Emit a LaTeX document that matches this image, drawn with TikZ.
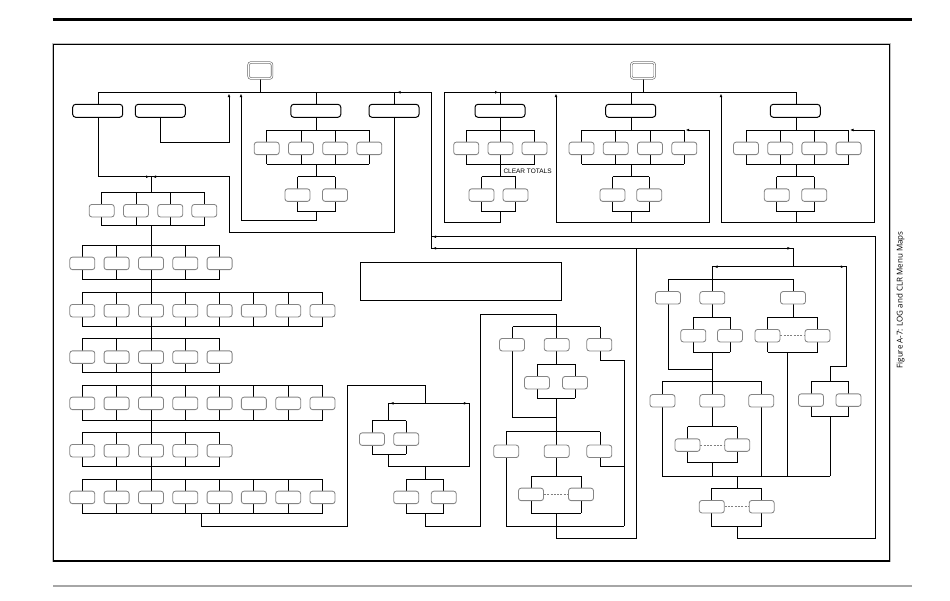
\documentclass[tikz,border=0pt]{standalone}
\usepackage{fontspec}
\setmainfont{Liberation Sans}
\newfontfamily\capfont{Open Sans}
\usetikzlibrary{arrows.meta}
\tikzset{
 ln/.style={line width=1pt, draw=black, line join=miter},
 arr/.style={-{Latex[length=3.6pt,width=2.8pt]}},
 smallbox/.style={draw=black!48, line width=0.85pt, fill=white, rounded corners=2.6pt, minimum width=25pt, minimum height=12.5pt, inner sep=0pt},
 topbox/.style={draw=black, line width=1pt, fill=white, rounded corners=3pt, minimum width=50pt, minimum height=13pt, inner sep=0pt},
 rootbox/.style={draw=black!60, double=white, double distance=1.1pt, line width=0.6pt, fill=white, rounded corners=2.5pt, minimum width=23.5pt, minimum height=16pt, inner sep=0pt},
 dsh/.style={draw=black!50, line width=0.7pt, dash pattern=on 2pt off 1.3pt},
}
% #1 name, #2 top bus y, #3 bottom bus y, #4 first x, #5 last x, #6 list of x
\newcommand\grp[6]{%
 \draw[ln] (#4,#2)--(#5,#2) (#4,#3)--(#5,#3);
 \foreach \xx [count=\ii] in {#6} {
   \draw[ln] (\xx,#2)--(\xx,#3);
   \node[smallbox] (#1-\ii) at (\xx,{#2+18.4}) {};
 }}
% dashed two-box group
\newcommand\dgrp[5]{%
 \draw[ln] (#4,#2)--(#5,#2) (#4,#3)--(#5,#3) (#4,#2)--(#4,#3) (#5,#2)--(#5,#3);
 \node[smallbox] (#1-1) at (#4,{#2+18.4}) {};
 \node[smallbox] (#1-2) at (#5,{#2+18.4}) {};
 \draw[dsh] (#1-1.east)--(#1-2.west);
}
\begin{document}
\begin{tikzpicture}[x=1pt,y=-1pt]
\useasboundingbox (0,0) rectangle (950,600);
% page furniture
\draw[line width=3.3pt] (52.7,19.5)--(912,19.5);
\draw[line width=2pt, black!35] (53,585.7)--(912,585.7);
\draw[line width=2pt, black!25] (53.3,44.3) rectangle (889.5,561);
\draw[line width=1.1pt] (53.3,44.3) rectangle (889.5,561);
\node[rotate=90, font=\capfont\fontsize{8}{9.5}\selectfont, inner sep=0pt] (cap) at (900.5,300) {Figure A-7: LOG and CLR Menu Maps};

% ================= LOG menu =================
\draw[ln] (260.3,79.3)--(260.3,92.3);
\draw[ln] (98.3,92.3)--(431,92.3)--(431,248.3);
\draw[ln] (98.3,92.3)--(98.3,176.7)--(229,176.7)--(229,232.7)--(394.5,232.7)--(394.5,92.3);
\draw[ln,arr] (160.3,117.3)--(160.3,142.3)--(229,142.3)--(229,93.5);
\draw[line width=0.8pt,arr] (404,92.3)--(397,92.3);
\draw[line width=0.8pt,arr] (142,176.7)--(149.6,176.7);
\draw[line width=0.8pt,arr] (160,176.7)--(152.4,176.7);
% C branch
\draw[ln] (316,92.3)--(316,130);
\grp{lc1}{130}{164.3}{266.7}{369.3}{266.7,301,335.2,369.3}
\draw[ln] (316,164.3)--(316,176.7);
\grp{lc2}{176.7}{211.7}{297.5}{335}{297.5,335}
\draw[ln,arr] (316,211.7)--(316,220)--(241,220)--(241,93.5);

% left column spine
\draw[ln] (151,176.7)--(151,192.3);
\grp{g1}{192.3}{225.7}{101.7}{204.3}{101.7,136,170.3,204.3}
\draw[ln] (151,225.7)--(151,245);
\grp{g2}{245}{279.3}{82.3}{219.6}{82.3,116.6,151,185.3,219.6}
\draw[ln] (151,279.3)--(151,292.3);
\grp{g3}{292.3}{326}{82.3}{322.5}{82.3,116.6,151,185.3,219.6,253.9,288.2,322.5}
\draw[ln] (151,326)--(151,338.7);
\grp{g4}{338.7}{372.7}{82.3}{219.6}{82.3,116.6,151,185.3,219.6}
\draw[ln] (151,372.7)--(151,385);
\grp{g5}{385}{420}{82.3}{322.5}{82.3,116.6,151,185.3,219.6,253.9,288.2,322.5}
\draw[ln] (151,420)--(151,432.3);
\grp{g6}{432.3}{466}{82.3}{219.6}{82.3,116.6,151,185.3,219.6}
\draw[ln] (151,466)--(151,479);
\grp{g7}{479}{513.3}{82.3}{322.5}{82.3,116.6,151,185.3,219.6,253.9,288.2,322.5}

% middle-left structure
\draw[ln] (201.7,513.3)--(201.7,526)--(347.3,526)--(347.3,385)--(425.7,385)--(425.7,403.3);
\draw[ln] (388.3,420.7)--(388.3,403.3)--(469,403.3)--(469,466)--(388.3,466)--(388.3,454);
\draw[line width=0.8pt,arr] (398,403.3)--(390,403.3);
\draw[line width=0.8pt,arr] (459,403.3)--(467.4,403.3);
\grp{ml1}{420.7}{454}{372}{406.2}{372,406.2}
\draw[ln] (425.7,466)--(425.7,479);
\grp{ml2}{479}{513.3}{406.2}{443.8}{406.2,443.8}
\draw[ln] (425.7,513.3)--(425.7,526)--(480.7,526)--(480.7,314.3)--(556.7,314.3)--(556.7,326.7);

% middle structure
\draw[ln] (512.7,326.7)--(600,326.7);
\draw[ln] (512.7,326.7)--(512.7,417.3)--(556.7,417.3);
\draw[ln] (556.7,326.7)--(556.7,364.3);
\draw[ln] (600,326.7)--(600,360.7)--(624.3,360.7)--(624.3,526);
\grp{m1}{364.3}{398.3}{537}{575}{537,575}
\draw[ln] (556.7,398.3)--(556.7,431.7);
\draw[ln] (506,431.7)--(600,431.7);
\draw[ln] (506,431.7)--(506,526)--(624.3,526);
\draw[ln] (556.7,431.7)--(556.7,476);
\draw[ln] (600,431.7)--(600,466)--(624.3,466);
\dgrp{m2}{476}{513.3}{531}{581}
\draw[ln] (556.7,513.3)--(556.7,538.3)--(636.7,538.3)--(636.7,248.3);

% return lines
\draw[ln] (431,236.7)--(875,236.7)--(875,538.3)--(737.3,538.3)--(737.3,526.7);
\draw[ln] (431,248.3)--(793.3,248.3)--(793.3,266.7);
\draw[line width=0.8pt,arr] (441,236.7)--(432.5,236.7);
\draw[line width=0.8pt,arr] (441,248.3)--(432.5,248.3);
\draw[line width=0.8pt,arr] (782,248.3)--(791,248.3);

% right-bottom structure
\draw[ln] (712.3,266.7)--(846,266.7)--(846,366.7)--(830,366.7)--(830,381.7);
\draw[line width=0.8pt,arr] (722,266.7)--(714,266.7);
\draw[line width=0.8pt,arr] (836,266.7)--(844.4,266.7);
\draw[ln] (712.3,266.7)--(712.3,317.3);
\draw[ln] (668.3,279.3)--(793.3,279.3);
\draw[ln] (668.3,279.3)--(668.3,369.3)--(712.3,369.3);
\draw[ln] (793.3,279.3)--(793.3,317.3);
\grp{r1}{317.3}{352}{693.3}{730}{693.3,730}
\dgrp{r2}{317.3}{352}{767.5}{817.5}
\draw[ln] (787,352)--(787,476);
\draw[ln] (712.3,352)--(712.3,381.7);
\draw[ln] (662.3,381.7)--(761.7,381.7);
\draw[ln] (662.3,381.7)--(662.3,476)--(830,476);
\draw[ln] (712.3,381.7)--(712.3,426.7);
\draw[ln] (761.7,381.7)--(761.7,476);
\dgrp{r3}{426.7}{462.7}{687.5}{737.2}
\draw[ln] (712.3,462.7)--(712.3,476);
\grp{r4}{381.7}{416.7}{811}{848.5}{811,848.5}
\draw[ln] (830,416.7)--(830,476);
\draw[ln] (737.3,476)--(737.3,488.3);
\dgrp{r5}{488.3}{526.7}{711.8}{761.7}

% ================= CLR menu =================
\draw[ln] (643,79.3)--(643,92.3);
\draw[ln] (444,92.3)--(796,92.3);
\draw[line width=0.8pt,arr] (489,92.3)--(498.6,92.3);
% section 1
\draw[ln] (500.5,211.7)--(500.5,222.7)--(444,222.7)--(444,92.3);
\draw[ln] (500.5,92.3)--(500.5,130);
\grp{c1}{130}{164.3}{466.2}{534.5}{466.2,500.5,534.5}
\draw[ln] (500.5,164.3)--(500.5,176.7);
\grp{c1b}{176.7}{211.7}{481.5}{515.5}{481.5,515.5}
\node[anchor=base west, inner sep=0pt, font=\fontsize{6.5}{7}\selectfont] (clrtot) at (503.3,173.8) {CLEAR TOTALS};
% section 2
\draw[ln] (631.5,92.3)--(631.5,130);
\grp{c2}{130}{164.3}{581.5}{684.3}{581.5,615.8,650,684.3}
\draw[ln] (631.5,164.3)--(631.5,176.7);
\grp{c2b}{176.7}{211.7}{612.5}{649.2}{612.5,649.2}
\draw[ln,arr] (631.5,211.7)--(631.5,222.7)--(556,222.7)--(556,93.5);
\draw[ln,arr] (631.5,222.7)--(709.3,222.7)--(709.3,130)--(685.6,130);
% section 3
\draw[ln] (796,92.3)--(796,130);
\grp{c3}{130}{164.3}{746}{848.6}{746,780.2,814.4,848.6}
\draw[ln] (796,164.3)--(796,176.7);
\grp{c3b}{176.7}{211.7}{776.8}{814.2}{776.8,814.2}
\draw[ln,arr] (796,211.7)--(796,222.7)--(721,222.7)--(721,93.5);
\draw[ln,arr] (796,222.7)--(874.3,222.7)--(874.3,130)--(849.9,130);

% ================= single boxes (drawn last) =================
\node[rootbox] (logroot) at (260.3,70.5) {};
\node[rootbox] (clrroot) at (643,70.5) {};
\node[topbox] (logA) at (97.7,110.8) {};
\node[topbox] (logB) at (160.3,110.8) {};
\node[topbox] (logC) at (315.8,110.8) {};
\node[topbox] (logD) at (394,110.8) {};
\node[topbox] (clr1) at (500,110.8) {};
\node[topbox] (clr2) at (630.7,110.8) {};
\node[topbox] (clr3) at (795.3,110.8) {};
\node[draw, line width=1.1pt, minimum width=201pt, minimum height=38pt, inner sep=0pt] (desc) at (461.2,281.4) {};
% middle structure boxes
\node[smallbox] (ma) at (512,344.7) {};
\node[smallbox] (mb) at (556.7,344.7) {};
\node[smallbox] (mc) at (599.3,344.7) {};
\node[smallbox] (md) at (506.2,451.3) {};
\node[smallbox] (me) at (556.7,451.3) {};
\node[smallbox] (mf) at (599.3,451.3) {};
% right structure boxes
\node[smallbox] (ra) at (668,297.8) {};
\node[smallbox] (rb) at (712.3,297.8) {};
\node[smallbox] (rc) at (793,297.8) {};
\node[smallbox] (rd) at (662.5,400.8) {};
\node[smallbox] (re) at (712.3,400.8) {};
\node[smallbox] (rf) at (761.2,400.8) {};
\end{tikzpicture}
\end{document}
